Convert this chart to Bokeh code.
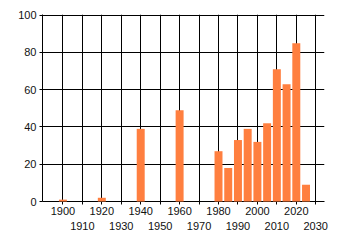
from bokeh.plotting import figure
from bokeh.models import FixedTicker, LinearAxis, Range1d, Grid
from bokeh.embed import file_html
from bokeh.resources import INLINE

years = [1900, 1920, 1940, 1960, 1980, 1985, 1990, 1995, 2000, 2005, 2010, 2015, 2020, 2025]
values = [1, 2, 39, 49, 27, 18, 33, 39, 32, 42, 71, 63, 85, 9]
decades = [1900, 1910, 1920, 1930, 1940, 1950, 1960, 1970, 1980, 1990, 2000, 2010, 2020, 2030]
row1 = [1900, 1920, 1940, 1960, 1980, 2000, 2020]
row2 = [1910, 1930, 1950, 1970, 1990, 2010, 2030]
yticks = [0, 20, 40, 60, 80, 100]

FONT = "Liberation Sans"
BAR = "#FF7F3F"

p = figure(width=340, height=245, output_backend="svg", toolbar_location=None,
           x_range=Range1d(1889.5, 2034.5), y_range=Range1d(0, 100.4),
           min_border_left=42, min_border_right=16, min_border_top=14, min_border_bottom=44,
           x_axis_type=None)
p.outline_line_color = None
p.background_fill_color = "white"
p.border_fill_color = "white"

p.vbar(x=years, top=values, width=4.1, bottom=0, fill_color=BAR, line_color=None, level="overlay")

ax1 = LinearAxis(ticker=FixedTicker(ticks=decades))
ax1.major_label_overrides = {d: "" for d in row2}
ax2 = LinearAxis(ticker=FixedTicker(ticks=row2))
for ax in (ax1, ax2):
    ax.major_label_text_font = FONT
    ax.major_label_text_font_size = "11px"
    ax.major_label_text_color = "#111111"
    ax.minor_tick_line_color = None
ax1.axis_line_color = "black"
ax1.major_tick_line_color = "black"
ax1.major_tick_in = 0
ax1.major_tick_out = 3
ax1.major_label_standoff = 2
ax2.axis_line_color = None
ax2.major_tick_line_color = None
ax2.major_tick_in = 0
ax2.major_tick_out = 0
ax2.major_label_standoff = 4
p.add_layout(ax1, "below")
p.add_layout(ax2, "below")

p.yaxis.ticker = FixedTicker(ticks=yticks)
p.yaxis.major_label_text_font = FONT
p.yaxis.major_label_text_font_size = "11px"
p.yaxis.major_label_text_color = "#111111"
p.yaxis.axis_line_color = "black"
p.yaxis.major_tick_line_color = "black"
p.yaxis.major_tick_in = 0
p.yaxis.major_tick_out = 3
p.yaxis.major_label_standoff = 3
p.yaxis.minor_tick_line_color = None

xgrid = Grid(dimension=0, ticker=FixedTicker(ticks=decades), grid_line_color="black", grid_line_width=1, level="underlay")
p.add_layout(xgrid)
p.ygrid.ticker = FixedTicker(ticks=yticks)
p.ygrid.grid_line_color = "black"
p.ygrid.level = "underlay"

open("out.html", "w").write(file_html(p, INLINE))
